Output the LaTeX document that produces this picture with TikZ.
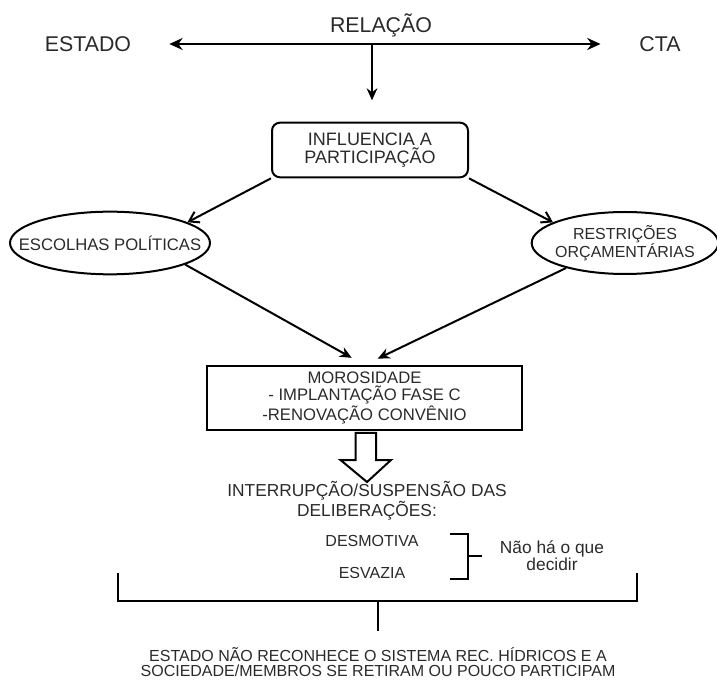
\documentclass[tikz,border=0pt]{standalone}
\usepackage{fontspec}
\setmainfont{Liberation Sans}
\usetikzlibrary{arrows.meta,positioning,calc,shapes.geometric}
\definecolor{ink}{HTML}{2A2A2A}
\tikzset{
  lbl/.style={font=\fontsize{12}{12.75}\selectfont,text=ink,align=center,inner sep=2pt},
  big/.style={lbl,font=\fontsize{16}{18}\selectfont},
  mid/.style={lbl,font=\fontsize{13}{13}\selectfont},
  rbox/.style={lbl,font=\fontsize{13.5}{13}\selectfont,draw=black,line width=1.5pt,
    rounded corners=6pt,minimum width=147pt,minimum height=41pt},
  sbox/.style={lbl,font=\fontsize{12.5}{12.5}\selectfont,draw=black,line width=1.5pt,
    minimum width=236pt,minimum height=48pt},
  oval/.style={lbl,ellipse,draw=black,line width=1.5pt,inner xsep=-16pt,inner ysep=0pt},
  flow/.style={-{Stealth[length=9pt,width=8pt]},line width=1.5pt},
  barb/.style={-{Straight Barb[length=7pt,width=9pt]},line width=1.5pt},
  hollow/.style={draw=black,line width=1.5pt,fill=white,line join=miter},
  brk/.style={draw=black,line width=1.5pt},
}

\begin{document}
\begin{tikzpicture}[x=0.75pt,y=-0.75pt]
  \useasboundingbox (0,0) rectangle (717,680);
  % --- relacao Estado / CTA ---
  \node[big](estado) at (88,44) {ESTADO};
  \node[big](cta) at (660,44) {CTA};
  \node[big](relacao) at (381,25) {RELAÇÃO};
  \coordinate (rel) at (372,44);
  \draw[{Stealth[length=10pt,width=9pt]}-{Stealth[length=10pt,width=9pt]},line width=1.5pt,
    shorten <=26.5pt,shorten >=27pt] (estado) -- (cta);
  \draw[flow,shorten >=17pt] (rel) -- (372,123);

  \node[rbox](infl) at (370,150) {INFLUENCIA A\\PARTICIPAÇÃO};
  \node[oval,font=\fontsize{12.5}{12.5}\selectfont,minimum width=150pt,minimum height=47pt]
    (escolhas) at (110,243) {ESCOLHAS POLÍTICAS};
  \node[oval,minimum width=140pt,minimum height=46.5pt](restr) at (625,243) {RESTRIÇÕES\\ORÇAMENTÁRIAS};
  \draw[barb] (infl.south west) -- (escolhas.15);
  \draw[barb] (infl.south east) -- (restr.164);

  \node[sbox](moros) at (364.5,398) {MOROSIDADE\\- IMPLANTAÇÃO FASE C\\-RENOVAÇÃO CONVÊNIO};
  \draw[flow,shorten >=11pt] (escolhas.-16) -- (moros.north);
  \draw[flow,shorten >=11pt] (restr.-157) -- (moros.north);

  % open block arrow
  \draw[hollow] ($(moros.south)+(-9,2)$) -- ++(0,27) -- ++(-15,0) -- ($(moros.south)+(2.5,51)$)
    -- ++(24,-22) -- ++(-15,0) -- ++(0,-27) -- cycle;

  \node[mid](interr) at (367,501) {INTERRUPÇÃO/SUSPENSÃO DAS\\DELIBERAÇÕES:};
  \node[lbl](desm) at (372,541) {DESMOTIVA};
  \node[lbl](esvaz) at (372,573) {ESVAZIA};
  \node[mid](nao) at (552,556) {Não há o que\\decidir};
  \draw[brk] (450,534) -- (468,534) -- (468,579) -- (450,579);
  \draw[brk] (468,556) -- (482,556);

  % fecho final
  \node[lbl,font=\fontsize{12}{11.5}\selectfont,inner sep=0pt](estfim) at (378,662)
    {ESTADO NÃO RECONHECE O SISTEMA REC. HÍDRICOS E A\\SOCIEDADE/MEMBROS SE RETIRAM OU POUCO PARTICIPAM};
  \draw[brk] (118,573) -- (118,601) -- (637,601) -- (637,573);
  \coordinate (junc) at (378,601);
  \draw[brk,shorten >=12pt] (junc) -- (estfim.north);
\end{tikzpicture}
\end{document}
